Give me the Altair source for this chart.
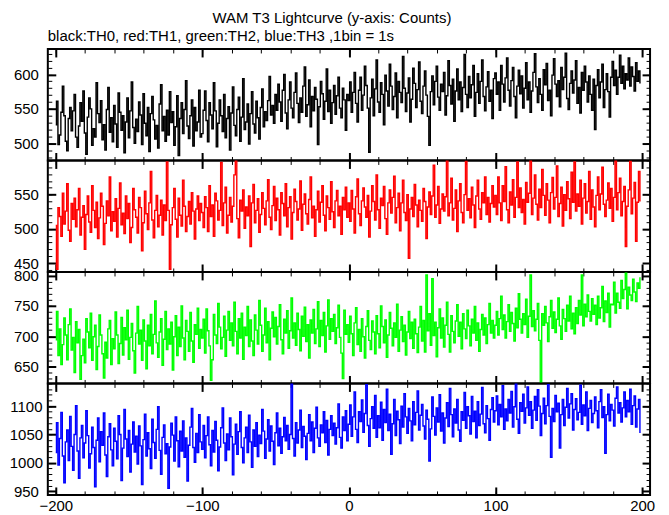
import altair as alt
import pandas as pd

TITLE = "WAM T3 Lightcurve (y-axis: Counts)"
SUBTITLE = "black:TH0, red:TH1, green:TH2, blue:TH3 ,1bin = 1s"

# time bins (1 s each)
time_s = list(range(-200, 200))

# TH0 (black) counts per 1 s bin, in four 100-s segments
th0_a = [527,561,498,512,545,583,540,503,489,536,552,518,547,571,509,494,525,559,532,576,
         515,484,538,566,550,497,521,509,588,543,530,562,505,527,490,549,581,516,537,502,
         555,528,494,573,545,519,540,486,531,566,508,547,589,523,500,535,517,560,541,498,
         572,529,511,552,488,543,568,534,506,526,493,557,585,518,539,503,548,512,575,530,
         546,497,524,569,482,536,559,514,549,591,525,507,540,563,496,552,518,531,577,509]
th0_b = [514,548,576,533,502,559,541,521,588,547,495,529,563,540,517,571,508,536,553,490,
         544,582,526,511,549,567,503,538,594,520,531,557,499,543,575,528,515,561,537,506,
         552,579,524,546,533,562,597,541,555,529,571,548,586,560,532,577,600,544,521,563,
         589,551,537,574,602,558,530,566,545,583,611,539,556,592,524,568,547,581,564,498,
         553,590,572,535,561,608,546,577,529,559,584,542,569,596,551,537,580,563,519,571]
th0_c = [562,589,545,574,603,558,531,577,596,548,570,612,584,551,487,566,593,540,579,621,
         560,545,588,571,527,599,576,554,615,583,549,568,602,537,590,574,559,626,580,546,
         573,595,531,564,609,587,552,578,618,561,543,583,605,570,539,497,575,598,556,590,
         612,567,548,586,575,603,541,569,620,584,557,593,532,576,608,563,589,546,581,629,
         571,552,597,566,585,613,539,574,601,558,590,621,568,547,582,604,561,577,536,594]
th0_d = [602,571,589,548,613,586,560,595,624,577,554,591,610,568,537,583,606,572,598,551,
         580,617,563,589,545,576,603,630,582,559,594,571,548,607,585,616,562,577,540,599,
         623,586,568,591,553,610,578,596,631,565,549,587,605,573,592,620,558,581,544,603,
         577,612,589,560,598,571,548,593,520,584,607,566,589,615,552,578,601,575,538,596,
         619,584,606,571,596,628,587,612,579,601,592,624,583,611,597,576,617,590,605,588]

# TH1 (red)
th1_a = [505,441,531,518,489,552,507,526,566,498,482,537,514,545,503,528,559,491,517,534,
         470,521,548,510,495,563,527,502,539,486,516,552,533,477,508,541,519,576,497,525,
         511,544,488,530,567,506,523,493,548,515,537,480,502,559,528,517,494,546,531,468,
         509,555,522,499,538,584,513,487,527,549,503,520,542,491,535,512,598,527,441,506,
         531,559,514,488,545,520,504,571,533,496,518,540,507,553,526,485,529,548,512,537]
th1_b = [524,502,547,531,496,563,518,535,489,552,541,513,527,597,505,538,561,494,520,546,
         510,533,579,600,515,487,542,526,557,501,532,519,548,474,538,565,509,527,544,495,
         521,553,530,506,541,572,517,499,534,562,512,545,528,491,553,537,519,566,503,531,
         547,485,524,558,540,513,529,570,498,536,551,522,507,543,576,516,533,489,528,555,
         510,539,563,520,497,548,531,514,569,525,502,541,556,519,533,492,546,528,561,517]
th1_c = [538,511,556,529,494,547,573,522,505,541,560,532,517,549,488,526,563,540,513,579,
         528,501,545,534,562,515,492,538,557,523,546,577,509,531,552,497,538,571,524,512,
         550,457,529,546,518,565,535,503,542,527,511,559,540,486,532,554,521,548,593,517,
         535,562,508,529,551,526,547,600,519,538,574,513,530,557,496,541,566,524,509,550,
         599,527,544,516,561,535,502,548,571,529,514,553,538,576,521,546,510,537,563,532]
th1_d = [549,521,576,538,512,563,540,591,528,509,554,535,572,517,546,598,531,560,524,543,
         507,568,539,552,600,521,545,579,536,513,558,531,587,549,520,566,542,509,553,575,
         529,546,592,518,537,561,504,550,527,569,544,515,583,539,598,526,551,533,571,507,
         545,566,523,540,584,514,557,532,503,549,576,528,551,590,536,518,542,567,530,559,
         511,546,600,528,553,574,519,540,562,474,533,557,599,522,545,568,482,539,584,541]

# TH2 (green)
th2_a = [694,741,668,712,653,686,730,702,661,719,745,677,698,640,724,689,711,629,668,695,
         656,729,707,681,738,660,699,718,645,683,735,702,671,631,690,664,712,726,653,696,
         679,740,702,655,688,731,669,714,694,743,662,698,721,676,639,705,749,687,710,660,
         727,692,646,718,684,736,671,703,758,689,665,707,729,652,695,741,678,712,687,723,
         644,699,734,668,715,683,750,697,661,726,708,675,739,692,657,719,703,746,680,711]
th2_b = [697,728,672,745,709,684,627,661,736,702,688,754,715,679,698,733,667,710,741,693,
         722,684,756,708,671,729,697,738,662,715,701,749,683,727,692,668,735,710,687,759,
         718,675,702,746,689,724,661,713,740,699,731,687,716,752,694,671,728,705,742,680,
         709,763,697,722,685,738,711,676,733,700,748,691,719,664,727,705,744,688,712,757,
         683,726,701,739,674,717,760,695,729,708,736,688,714,751,698,672,630,743,703,719]
th2_c = [690,733,704,668,722,747,686,711,675,729,699,664,716,742,693,678,725,707,671,734,
         704,681,750,716,689,727,665,702,739,713,684,722,698,753,675,710,732,691,718,669,
         707,741,696,723,680,728,704,673,715,749,692,726,674,801,709,737,685,795,701,723,
         666,714,745,697,730,682,718,756,703,674,734,708,689,725,752,700,723,679,737,712,
         696,743,717,684,728,705,749,693,722,675,711,736,702,730,688,719,754,705,726,697]
th2_d = [718,741,702,729,766,711,735,697,724,752,708,739,721,692,746,714,770,728,705,737,
         719,761,698,733,801,716,742,709,728,754,693,624,737,718,749,722,691,732,759,713,
         740,706,728,763,717,695,744,729,708,751,725,766,712,738,704,747,721,759,735,801,
         717,753,732,768,741,725,762,736,751,719,766,730,747,782,724,758,739,771,715,753,
         752,789,738,771,756,746,792,762,777,804,745,781,768,759,794,773,757,788,779,796]

# TH3 (blue)
th3_a = [1018,1071,996,1043,1089,1012,965,1037,1058,1004,1082,1029,987,1050,1101,1021,973,1044,1066,1009,
         1035,1092,1048,991,1016,1063,1027,958,1040,1079,1002,1055,1031,1088,1014,976,1046,1069,1023,995,
         1061,1038,1007,1083,1050,969,1026,1094,1042,1011,1057,984,1033,1072,1019,1047,998,1065,1030,962,
         1041,1086,1012,1053,1025,990,1077,1036,1008,1059,1099,1022,980,1045,1067,1016,1034,955,1028,1070,
         1049,1003,1081,1039,993,1056,1021,1074,1010,1044,968,1031,1063,1096,1027,1001,1052,1018,1085,1037]
th3_b = [1024,1066,1009,1048,1081,1032,995,1057,1019,1073,1040,986,1028,1062,1097,1035,1004,1051,1023,1079,
         1046,979,1033,1068,1015,1055,1090,1027,1000,1044,1063,1018,1084,1037,992,1058,1029,1071,1011,1049,
         1034,1094,1056,1008,1042,1076,1021,1065,1038,997,1053,1088,1030,1061,1017,1046,1080,1039,1066,1024,
         1050,1140,1043,1012,1071,1035,1058,1093,1027,1064,1047,1006,1052,1085,1039,1072,1018,1061,1098,1044,
         1029,1067,1053,1090,1036,1075,1014,1059,1083,1048,1070,1033,1062,1104,1045,1026,1081,1057,1092,1039]
th3_c = [1068,1102,1047,1081,1125,1059,1036,1090,1073,1111,1054,1087,1138,1066,1029,1078,1099,1061,1119,1045,
         1083,1062,1107,1040,1094,1071,1130,1057,1086,1015,1069,1112,1048,1091,1076,1034,1100,1063,1122,1081,
         1052,1096,1074,1039,1108,1067,1089,1127,1058,1084,1103,1065,1042,1093,1077,1003,1060,1116,1082,1049,
         1097,1072,1120,1056,1088,1035,1079,1106,1064,1131,1085,1046,1095,1070,1112,1058,1038,1090,1075,1124,
         1061,1099,1083,1051,1117,1073,1091,1044,1108,1066,1086,1133,1069,1053,1101,1078,1040,1094,1115,1072]
th3_d = [1092,1118,1067,1103,1081,1136,1059,1095,1074,1112,1088,1126,1063,1099,1140,1077,1052,1106,1091,1121,
         1070,1097,1134,1084,1108,1061,1093,1117,1075,1129,1100,1048,1087,1114,1069,1101,1138,1082,1010,1096,
         1073,1119,1090,1105,1026,1085,1112,1066,1098,1131,1079,1104,1122,1058,1094,1113,1076,1089,1137,1068,
         1102,1083,1125,1057,1096,1110,1071,1087,1116,1092,1062,1108,1129,1080,1099,1017,1085,1121,1074,1103,
         1093,1065,1114,1134,1088,1106,1072,1097,1125,1081,1110,1090,1130,1068,1101,1118,1063,1095,1112,1054]

th0 = th0_a + th0_b + th0_c + th0_d
th1 = th1_a + th1_b + th1_c + th1_d
th2 = th2_a + th2_b + th2_c + th2_d
th3 = th3_a + th3_b + th3_c + th3_d

x_domain = [-205.4, 205.4]
x_major = [-200, -100, 0, 100, 200]
x_minor = list(range(-200, 201, 20))

panel_defs = [
    (th0, "#000000", [475, 637], [500, 550, 600]),
    (th1, "#ff0000", [437, 600], [450, 500, 550]),
    (th2, "#00ff00", [622, 806], [650, 700, 750, 800]),
    (th3, "#0000ff", [943.5, 1140], [950, 1000, 1050, 1100]),
]

FONT = "Liberation Sans"
MAJ, MIN = 8, 4


def tick_axis(orient, values, size, width, labels=False, **kw):
    return alt.Axis(orient=orient, values=values, tickSize=size, tickWidth=width,
                    tickColor="black", offset=-size, domain=False, grid=False,
                    labels=labels, title=None, ticks=True, **kw)


def make_panel(values, color, ydom, ymajor, last):
    df = pd.DataFrame({"t": time_s, "c": values})
    y_minor = list(range(int(ydom[0] // 10 + 1) * 10, int(ydom[1]) + 1, 10))
    xs = alt.Scale(domain=x_domain, nice=False, zero=False)
    ys = alt.Scale(domain=ydom, nice=False, zero=False)
    lab = dict(labelFont=FONT, labelFontSize=15, labelColor="black",
               labelOverlap=False, labelFlush=False, format="d")
    base = alt.Chart(df)
    line = base.mark_line(interpolate="step", color=color, strokeWidth=1.4, clip=True).encode(
        x=alt.X("t:Q", scale=xs,
                axis=tick_axis("bottom", x_major, MAJ, 2, labels=last, labelPadding=4, **lab)),
        y=alt.Y("c:Q", scale=ys,
                axis=tick_axis("left", ymajor, MAJ, 2, labels=True, labelAlign="center",
                               labelPadding=22, minExtent=37, maxExtent=37, **lab)),
    )
    inv = base.mark_line(opacity=0)
    l2 = inv.encode(
        x=alt.X("t:Q", scale=xs, axis=tick_axis("bottom", x_minor, MIN, 1)),
        y=alt.Y("c:Q", scale=ys, axis=tick_axis("left", y_minor, MIN, 1)),
    )
    l3 = inv.encode(
        x=alt.X("t:Q", scale=xs, axis=tick_axis("top", x_major, MAJ, 2)),
        y=alt.Y("c:Q", scale=ys, axis=tick_axis("right", ymajor, MAJ, 2)),
    )
    l4 = inv.encode(
        x=alt.X("t:Q", scale=xs, axis=tick_axis("top", x_minor, MIN, 1)),
        y=alt.Y("c:Q", scale=ys, axis=tick_axis("right", y_minor, MIN, 1)),
    )
    return alt.layer(line, l2, l3, l4).resolve_scale(
        x="independent", y="independent").resolve_axis(
        x="independent", y="independent").properties(width=605, height=112)


panels = []
for i, (vals, col, ydom, ymaj) in enumerate(panel_defs):
    p = make_panel(vals, col, ydom, ymaj, i == len(panel_defs) - 1)
    if i == 0:
        p = p.properties(title=alt.TitleParams(
            SUBTITLE, anchor="start", frame="group", font=FONT, fontSize=15,
            fontWeight="normal", color="black", offset=4))
    panels.append(p)

chart = alt.vconcat(*panels, spacing=0, bounds="flush").properties(
    title=alt.TitleParams(TITLE, anchor="middle", font=FONT, fontSize=15,
                          fontWeight="normal", color="black", offset=2),
    padding={"left": 0, "top": 2, "right": 5, "bottom": 2},
).configure_view(stroke="black", strokeWidth=2).configure_concat(spacing=0)

chart.save("out.html", embed_options={"renderer": "svg", "actions": False})
